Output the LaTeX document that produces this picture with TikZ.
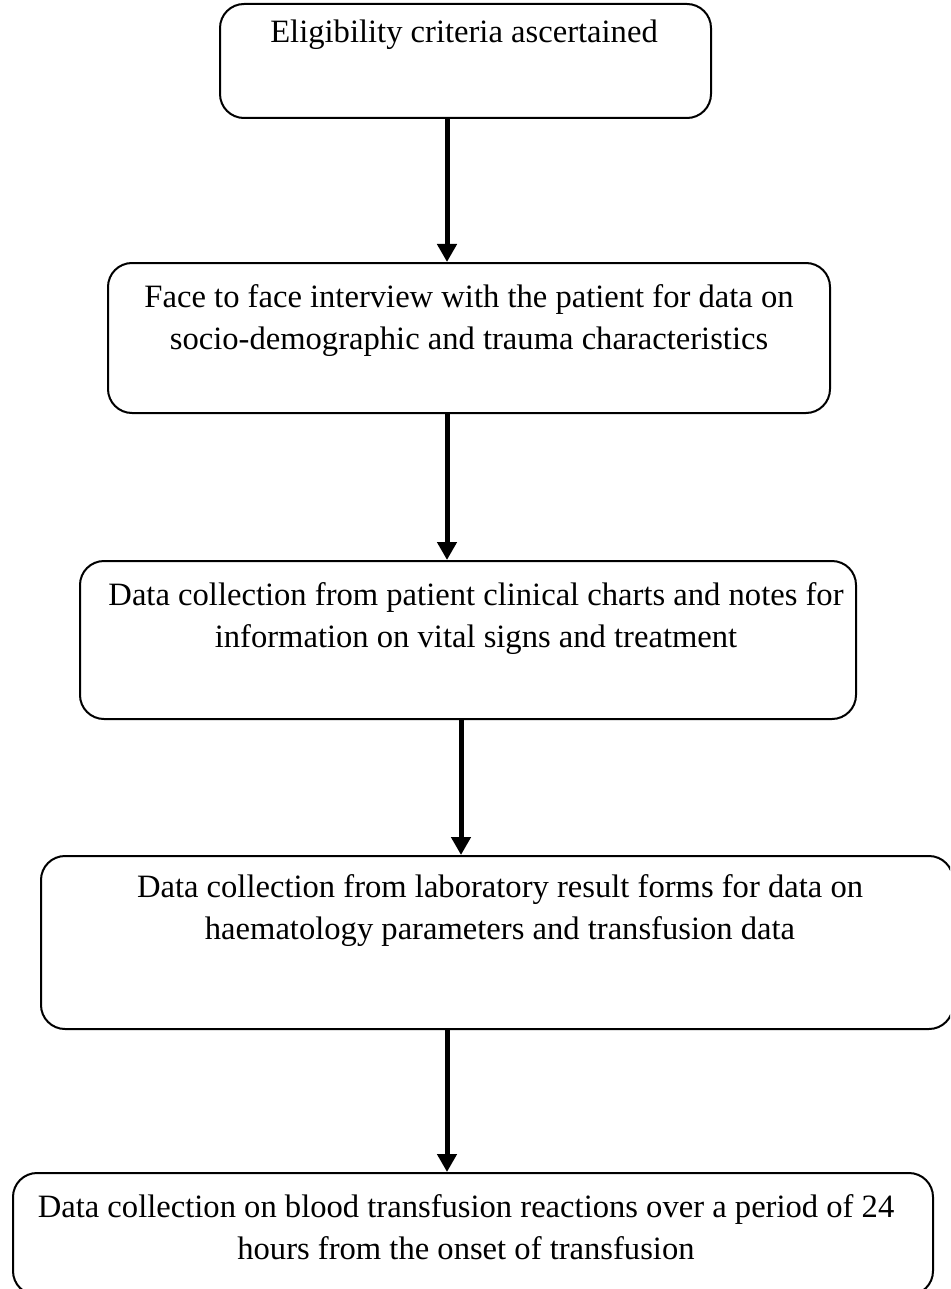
\documentclass[tikz,border=0pt]{standalone}
\usepackage{fontspec}
\setmainfont{Liberation Serif}
\usetikzlibrary{arrows.meta}
\begin{document}
\begin{tikzpicture}[x=1pt,y=-1pt,
  flowbox/.style={draw=black,line width=2pt,rounded corners=24pt,inner sep=0pt,anchor=north west},
  flowtext/.style={align=center,inner sep=0pt,anchor=north,font=\fontsize{32.6}{42}\selectfont},
  arr/.style={line width=5pt,-{Triangle[width=19pt,length=18pt]}}]
\useasboundingbox (0,0) rectangle (950,1289);
\clip (0,0) rectangle (950,1289);
% boxes
\node[flowbox,minimum width=491pt,minimum height=114pt] (b1) at (219,3) {};
\node[flowbox,minimum width=722pt,minimum height=150pt] (b2) at (107,262) {};
\node[flowbox,minimum width=776pt,minimum height=158pt] (b3) at (79,560) {};
\node[flowbox,minimum width=912pt,minimum height=173pt] (b4) at (40,855) {};
\node[flowbox,minimum width=920pt,minimum height=122pt] (b5) at (12,1172) {};
% texts
\node[flowtext] (t1) at (464,20) {Eligibility criteria ascertained};
\node[flowtext] (t2) at (469,284) {Face to face interview with the patient for data on\\socio-demographic and trauma characteristics};
\node[flowtext] (t3) at (476,582) {Data collection from patient clinical charts and notes for\\information on vital signs and treatment};
\node[flowtext] (t4) at (500,874) {Data collection from laboratory result forms for data on\\haematology parameters and transfusion data};
\node[flowtext] (t5) at (466,1194) {Data collection on blood transfusion reactions over a period of 24\\hours from the onset of transfusion};
% arrows
\draw[arr] (b1.south -| 447,0) -- (b2.north -| 447,0);
\draw[arr] (b2.south -| 447,0) -- (b3.north -| 447,0);
\draw[arr] (b3.south -| 461,0) -- (b4.north -| 461,0);
\draw[arr] (b4.south -| 447,0) -- (b5.north -| 447,0);
\end{tikzpicture}
\end{document}
